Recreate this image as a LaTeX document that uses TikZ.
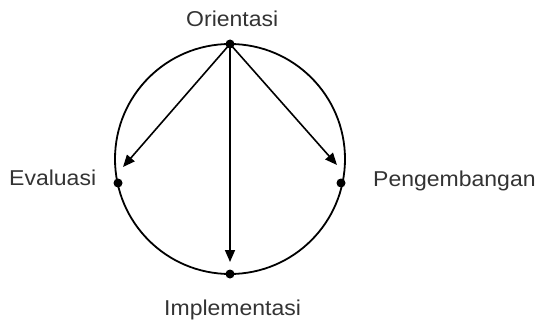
\documentclass[tikz,border=0pt]{standalone}
\usepackage{fontspec}
\setmainfont{Liberation Sans}[FakeStretch=1.07]
\usetikzlibrary{arrows.meta}
\begin{document}
\begin{tikzpicture}[x=1pt,y=-1pt,
  lbl/.style={font=\fontsize{21.5}{25}\selectfont, text=black!80, inner sep=0pt, anchor=base west},
  dot/.style={circle, fill=black, inner sep=0pt, minimum size=9pt},
  arr/.style={line width=1.6pt, -{Triangle[length=12pt,width=10pt]}}]
\useasboundingbox (0,0) rectangle (536,321);
\node[draw, circle, line width=1.8pt, minimum size=230pt, inner sep=0pt] (circ) at (230,159) {};
\node[dot] (top) at (230,44) {};
\node[dot] (left) at (118,183) {};
\node[dot] (right) at (341,183) {};
\node[dot] (bottom) at (230,274) {};
\coordinate (lend) at (123,167);
\coordinate (rend) at (337,165);
\coordinate (bend) at (230,262);
\draw[arr] (top.center) -- (lend);
\draw[arr] (top.center) -- (rend);
\draw[arr] (top.center) -- (bend);
\node[lbl] (o) at (186,27) {Orientasi};
\node[lbl] (e) at (9,185) {Evaluasi};
\node[lbl] (p) at (373,186) {Pengembangan};
\node[lbl] (i) at (164,315) {Implementasi};
\end{tikzpicture}
\end{document}
